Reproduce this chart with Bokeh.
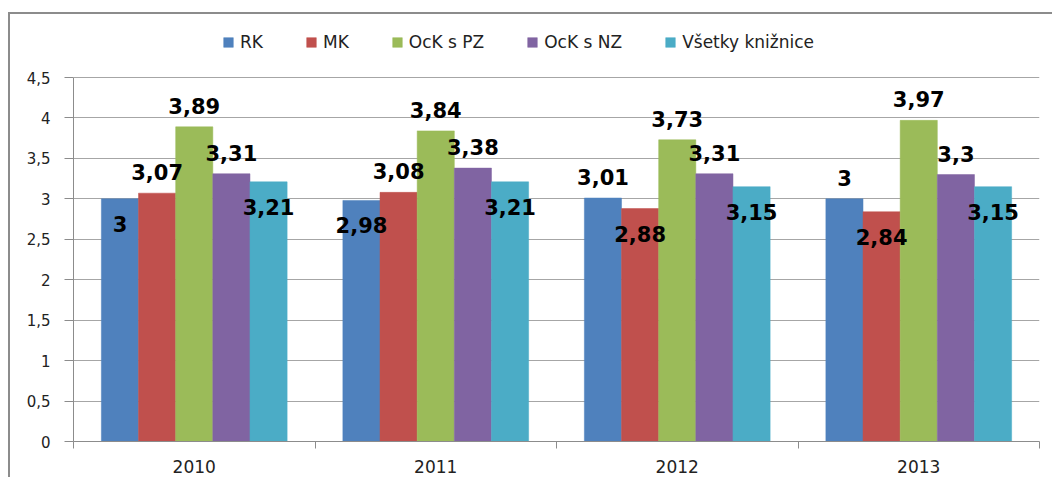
from bokeh.plotting import figure
from bokeh.models import (Range1d, FixedTicker, ColumnDataSource, Legend, LegendItem,
                          CustomJSTickFormatter)
from bokeh.transform import dodge
from bokeh.core.properties import value
from bokeh.embed import file_html
from bokeh.resources import INLINE

# ---- data ----
years = ["2010", "2011", "2012", "2013"]
series = ["RK", "MK", "OcK s PZ", "OcK s NZ", "Všetky knižnice"]
rk = [3.00, 2.98, 3.01, 3.00]
mk = [3.07, 3.08, 2.88, 2.84]
ock_pz = [3.89, 3.84, 3.73, 3.97]
ock_nz = [3.31, 3.38, 3.31, 3.30]
vsetky = [3.21, 3.21, 3.15, 3.15]
y_ticks = [0, 0.5, 1, 1.5, 2, 2.5, 3, 3.5, 4, 4.5]

# ---- layout / styles ----
W, H = 1052, 477
LEFT, RIGHT, TOP, BOTTOM = 73, 13, 30, 36     # frame borders (px)
AXIS_TOP_PX = 77                              # pixel row of the highest tick
colors = ["#4F81BD", "#C0504D", "#9BBB59", "#8064A2", "#4BACC6"]
# data-label placement per series: True = inside bar end, False = above bar
label_inside = [
    [True, True, False, False],
    [False, False, True, True],
    [False, False, False, False],
    [False, False, False, False],
    [True, True, True, True],
]
DY_ABOVE = -21
DY_INSIDE = 25

values = [rk, mk, ock_pz, ock_nz, vsetky]
n = len(series)
bar_w = 1.0 / (n + 1.5)

frame_h = H - TOP - BOTTOM
px_per_unit = (H - BOTTOM - AXIS_TOP_PX) / y_ticks[-1]
y_end = frame_h / px_per_unit

p = figure(width=W, height=H, x_range=Range1d(0, len(years)), y_range=Range1d(0, y_end),
           output_backend="svg", toolbar_location=None,
           min_border_left=LEFT, min_border_right=RIGHT,
           min_border_top=TOP, min_border_bottom=BOTTOM)
# chart-area border (top and left edges) painted behind a transparent canvas
p.styles = {"background": "linear-gradient(#8c8c8c, #8c8c8c) 8px 12px / 100% 2px no-repeat, "
                          "linear-gradient(#8c8c8c, #8c8c8c) 8px 12px / 2px 100% no-repeat, white"}
p.outline_line_color = None
p.background_fill_alpha = 0
p.border_fill_alpha = 0

def fmt(v):
    return ("%g" % v).replace(".", ",")

sources, offsets, items = [], [], []
for i, (name, vals) in enumerate(zip(series, values)):
    src = ColumnDataSource(dict(
        x=[k + 0.5 for k in range(len(years))],
        v=vals,
        label=[fmt(v) for v in vals],
        dy=[DY_INSIDE if ins else DY_ABOVE for ins in label_inside[i]],
    ))
    off = (i - (n - 1) / 2) * bar_w
    r = p.vbar(x=dodge("x", off), top="v", width=bar_w, source=src,
               fill_color=colors[i], line_color=colors[i], line_width=0.5)
    sources.append(src)
    offsets.append(off)
    items.append(LegendItem(label=name, renderers=[r]))

# data labels drawn after all bars so they sit on top
for src, off in zip(sources, offsets):
    p.text(x=dodge("x", off), y="v", text="label", y_offset="dy", source=src,
           text_align="center", text_baseline="middle",
           text_font=value("DejaVu Sans"), text_font_style="bold",
           text_font_size="21px", text_color="#000000")

legend = Legend(items=items, orientation="horizontal",
                location=(222 - LEFT, H - BOTTOM - 52),
                glyph_width=12, glyph_height=12, label_standoff=6, spacing=42,
                padding=0, margin=0, border_line_color=None, background_fill_alpha=0,
                label_text_font="DejaVu Sans", label_text_font_size="17px",
                label_text_color="#222222")
p.add_layout(legend, "center")

# y axis
p.yaxis.ticker = FixedTicker(ticks=y_ticks)
p.yaxis.bounds = (y_ticks[0], y_ticks[-1])
p.yaxis.formatter = CustomJSTickFormatter(code="return tick.toString().replace('.', ',');")
p.yaxis.axis_line_color = "#8c8c8c"
p.yaxis.major_tick_line_color = "#8c8c8c"
p.yaxis.major_tick_out = 9
p.yaxis.major_tick_in = 0
p.yaxis.minor_tick_line_color = None
p.yaxis.major_label_standoff = 14
p.yaxis.major_label_text_font = "DejaVu Sans"
p.yaxis.major_label_text_font_size = "15px"
p.yaxis.major_label_text_color = "#222222"
p.ygrid.ticker = FixedTicker(ticks=y_ticks)
p.ygrid.grid_line_color = "#a6a6a6"
p.xgrid.grid_line_color = None

# x axis: labels at category centres, ticks at category boundaries
p.xaxis.ticker = FixedTicker(ticks=[k + 0.5 for k in range(len(years))],
                             minor_ticks=list(range(len(years) + 1)))
p.xaxis.major_label_overrides = {k + 0.5: y for k, y in enumerate(years)}
p.xaxis.axis_line_color = "#8c8c8c"
p.xaxis.major_tick_line_color = None
p.xaxis.major_tick_out = 0
p.xaxis.major_tick_in = 0
p.xaxis.minor_tick_line_color = "#8c8c8c"
p.xaxis.minor_tick_out = 7
p.xaxis.minor_tick_in = 0
p.xaxis.major_label_standoff = 11
p.xaxis.major_label_text_font = "DejaVu Sans"
p.xaxis.major_label_text_font_size = "17px"
p.xaxis.major_label_text_color = "#222222"

open("out.html", "w").write(file_html(p, INLINE))
